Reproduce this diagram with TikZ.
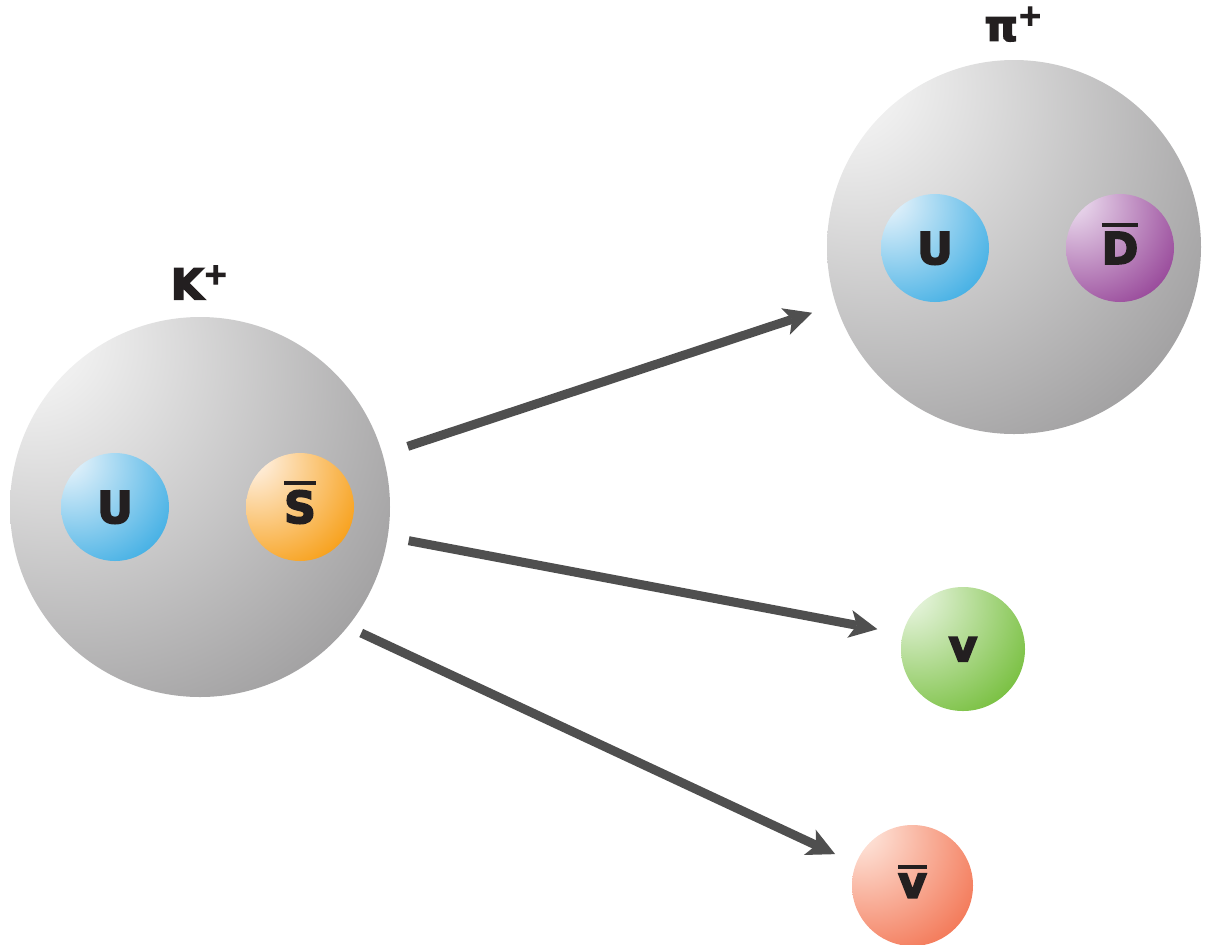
\documentclass[tikz,border=0pt]{standalone}
\usepackage{fontspec}
\setmainfont{DejaVu Sans}[BoldFeatures={FakeBold=4}]
\usepackage{tikz}
\usetikzlibrary{arrows.meta,positioning,shadings}

\definecolor{ink}{HTML}{231F20}
\definecolor{arrowgray}{HTML}{4F4F4F}
\definecolor{grayhi}{HTML}{EFEFEF}
\definecolor{graylo}{HTML}{A09FA0}
\definecolor{uphi}{HTML}{D8EDF9}
\definecolor{uplo}{HTML}{42AFE4}
\definecolor{stranghi}{HTML}{FEEAD2}
\definecolor{stranglo}{HTML}{F79F17}
\definecolor{downhi}{HTML}{E4CFE7}
\definecolor{downlo}{HTML}{974799}
\definecolor{nuhi}{HTML}{E0F1D4}
\definecolor{nulo}{HTML}{77BF3E}
\definecolor{nubarhi}{HTML}{FDDDD1}
\definecolor{nubarlo}{HTML}{F37756}

\colorlet{glowhi}{white}
\colorlet{glowlo}{gray}
\pgfdeclareradialshading[glowhi,glowlo]{glow}{\pgfpoint{-25bp}{25bp}}{%
  color(0bp)=(glowhi); color(8bp)=(glowhi); color(46bp)=(glowlo); color(100bp)=(glowlo)}

% bar over a letter
\newcommand{\barred}[1]{\vbox{\hrule height 2pt\kern 2.5pt\hbox{#1}}}

\tikzset{
  glow/.style 2 args={/utils/exec={\colorlet{glowhi}{#1}\colorlet{glowlo}{#2}}, shade, shading=glow},
  hadron/.style={circle, inner sep=0pt},
  quark/.style={circle, minimum size=54pt, inner sep=0pt, text=ink,
    font=\fontsize{22}{22}\selectfont\bfseries, text height=16pt, text depth=0pt},
  lepton/.style={quark, text height=12.3pt},
  lbl/.style={inner sep=0pt, text=ink, font=\fontsize{21}{21}\selectfont\bfseries},
  decay/.style={draw=arrowgray, line width=4.5pt,
    -{Stealth[length=14pt,width=14pt,inset=3.5pt,line width=0pt]}}
}

\begin{document}
\begin{tikzpicture}[x=0.5pt,y=-0.5pt]
  \useasboundingbox (0,0) rectangle (1210,944);

  % kaon
  \node[hadron, minimum size=190pt, glow={grayhi}{graylo}] (kaon) at (200,507) {};
  \node[lbl, above=8.5pt of kaon] (kaonlbl) {K\textsuperscript{+}};
  \node[quark, glow={uphi}{uplo}] (kaonu) at (115,507) {U};
  \node[quark, glow={stranghi}{stranglo}] (kaons) at (300,507) {\barred{S}};

  % pion
  \node[hadron, minimum size=187pt, glow={grayhi}{graylo}] (pion) at (1014,247) {};
  \node[lbl, above=9pt of pion] (pionlbl) {π\textsuperscript{+}};
  \node[quark, glow={uphi}{uplo}] (pionu) at (935,248) {U};
  \node[quark, glow={downhi}{downlo}] (piond) at (1120,248) {\barred{D}};

  % neutrinos
  \node[lepton, minimum size=62pt, glow={nuhi}{nulo}] (nu) at (963,649) {v};
  \node[lepton, minimum size=60.5pt, glow={nubarhi}{nubarlo}] (nubar) at (912.5,885.5) {\barred{v}};

  % decay arrows
  \draw[decay, shorten <=13pt, shorten >=12.5pt] (kaon.16) -- (pion.198);
  \draw[decay, shorten <=10.5pt, shorten >=12.75pt] (kaon.-9) -- (nu.166);
  \draw[decay, shorten <=7.3pt, shorten >=11.3pt] (kaon.-39.4) -- (nubar.159);

\end{tikzpicture}
\end{document}
